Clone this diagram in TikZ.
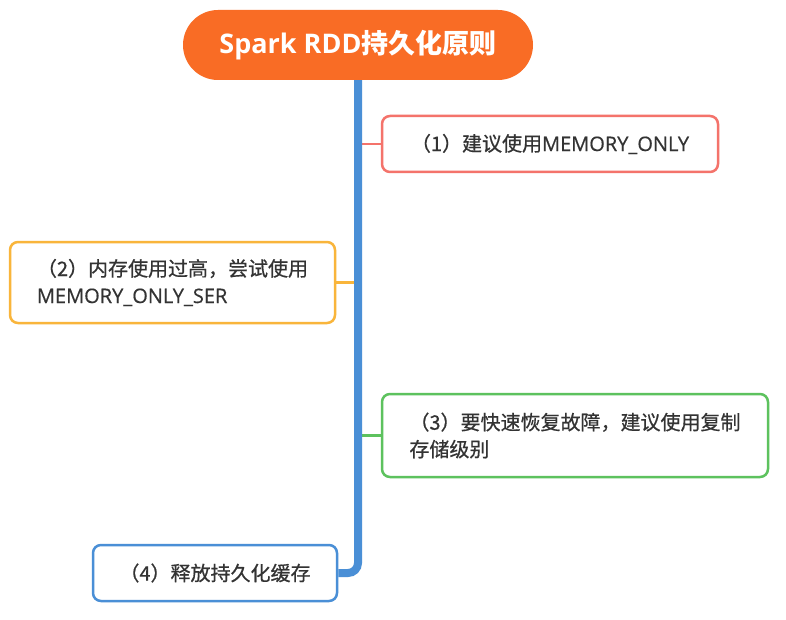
\documentclass[tikz,border=0pt]{standalone}
\usepackage{fontspec}
\setmainfont{Open Sans}
\newfontfamily\cjk{Noto Sans CJK SC}
\newfontfamily\cjkb[FakeBold=0.6]{Noto Sans CJK SC}
\newfontfamily\latb[FakeBold=0.5]{Open Sans}
\definecolor{titleor}{HTML}{F96C25}
\definecolor{cred}{HTML}{F4736B}
\definecolor{corange}{HTML}{F9B53B}
\definecolor{cgreen}{HTML}{5DC25E}
\definecolor{cblue}{HTML}{4A8FD6}
\definecolor{txt}{HTML}{333333}
\begin{document}
\begin{tikzpicture}[x=1pt,y=-1pt,
  titlebox/.style={fill=titleor, rounded corners=35pt, minimum width=350pt, minimum height=70pt, text=white, font=\fontsize{27}{32}\selectfont\bfseries, inner sep=0pt},
  box/.style={draw, line width=2.5pt, rounded corners=8pt, fill=white, align=left, font=\fontsize{20}{27}\selectfont\latb, text=txt, inner sep=0pt},
  link/.style={line width=2.5pt},
  trunk/.style={draw=cblue, line width=8pt, rounded corners=10pt}]
\useasboundingbox (0,0) rectangle (786,620);
\fill[white] (0,0) rectangle (786,620);
\node[titlebox] (t) at (358,45) {Spark RDD{\cjk 持久化原则}};
\node[box, draw=cred, minimum width=336pt, minimum height=56pt] (b1) at (550,144) {{\cjkb （1）建议使用}MEMORY\_ONLY};
\node[box, draw=corange, minimum width=325pt, minimum height=81pt] (b2) at (172.5,282.5) {{\cjkb （2）内存使用过高，尝试使用}\\MEMORY\_ONLY\_SER};
\node[box, draw=cgreen, minimum width=386pt, minimum height=83pt] (b3) at (575,435.5) {{\cjkb （3）要快速恢复故障，建议使用复制}\\{\cjkb 存储级别}};
\node[box, draw=cblue, minimum width=244pt, minimum height=56pt] (b4) at (215,573) {{\cjkb （4）释放持久化缓存}};
\draw[link, cred] (b1.west) -- (b1.west -| t.south);
\draw[link, corange] (b2.east) -- (b2.east -| t.south);
\draw[link, cgreen] (b3.west) -- (b3.west -| t.south);
\draw[trunk] (t.south) |- (b4.east);
\end{tikzpicture}
\end{document}
